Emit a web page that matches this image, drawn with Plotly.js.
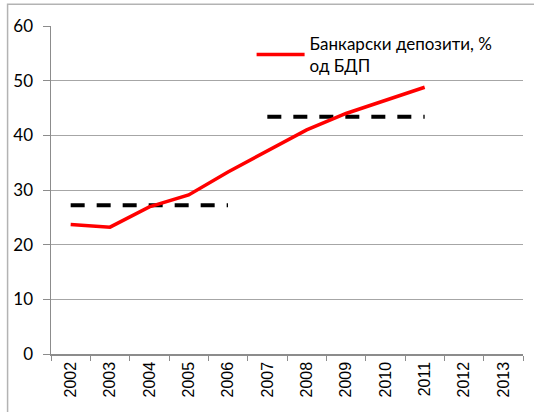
<!DOCTYPE html>
<html>
<head>
<meta charset="utf-8">
<script src="https://cdn.plot.ly/plotly-3.0.1.min.js"></script>
<style>html,body{margin:0;padding:0;background:#fff;}#chart{width:534px;height:412px;}</style>
</head>
<body>
<div id="chart"></div>
<script>
var years = ['2002','2003','2004','2005','2006','2007','2008','2009','2010','2011','2012','2013'];
var depositYears = ['2002','2003','2004','2005','2006','2007','2008','2009','2010','2011'];
var deposits = [23.7, 23.2, 26.9, 29.1, 33.3, 37.1, 41.0, 44.0, 46.4, 48.8];
var avgYears1 = ['2002','2003','2004','2005','2006'];
var avg1 = [27.2, 27.2, 27.2, 27.2, 27.2];
var avgYears2 = ['2007','2008','2009','2010','2011'];
var avg2 = [43.4, 43.4, 43.4, 43.4, 43.4];
var yTicks = [0, 10, 20, 30, 40, 50, 60];
var seriesName = 'Банкарски депозити, %<br>од БДП';

var traces = [
  {x: avgYears1, y: avg1, type: 'scatter', mode: 'lines', showlegend: false,
   line: {color: '#000000', width: 4, dash: '14px,12px'}, hoverinfo: 'skip'},
  {x: avgYears2, y: avg2, type: 'scatter', mode: 'lines', showlegend: false,
   line: {color: '#000000', width: 4, dash: '14px,12px'}, hoverinfo: 'skip'},
  {x: depositYears, y: deposits, type: 'scatter', mode: 'lines', name: seriesName,
   line: {color: '#ff0000', width: 3.5}}
];

var layout = {
  width: 534, height: 412,
  margin: {l: 51, r: 11, t: 26, b: 58, pad: 0, autoexpand: false},
  paper_bgcolor: '#ffffff', plot_bgcolor: '#ffffff',
  font: {family: 'Lato, "Liberation Sans", sans-serif', color: '#000000', size: 16},
  showlegend: true,
  legend: {x: 0.425, xanchor: 'left', y: 1.0, yanchor: 'top', bgcolor: 'rgba(0,0,0,0)',
           font: {size: 17, family: 'Lato, sans-serif'}, itemwidth: 48},
  xaxis: {
    type: 'category', categoryorder: 'array', categoryarray: years,
    tickmode: 'array', tickvals: years, ticktext: years,
    range: [-0.5, 11.5], tickangle: -90, tickson: 'boundaries',
    ticks: 'outside', ticklen: 5, tickcolor: '#8c8c8c', tickwidth: 1,
    showline: true, linecolor: '#8c8c8c', linewidth: 1.5, showgrid: false, zeroline: false,
    automargin: false,
    tickfont: {family: '"Liberation Sans", Arial, sans-serif', size: 16}
  },
  yaxis: {
    range: [0, 60], tickvals: yTicks, ticktext: yTicks.map(String),
    ticks: 'outside', ticklen: 7, tickcolor: '#8c8c8c', tickwidth: 1,
    showline: true, linecolor: '#8c8c8c', linewidth: 1.5,
    showgrid: true, gridcolor: '#a6a6a6', gridwidth: 1, zeroline: false,
    ticklabelstandoff: 6, automargin: false,
    tickfont: {family: 'Lato, sans-serif', size: 17}
  },
  shapes: [
    {type: 'rect', xref: 'paper', yref: 'paper', x0: -0.092, x1: 1.2, y0: -0.3, y1: 1.066,
     line: {color: '#b3b3b3', width: 1.5}, fillcolor: 'rgba(0,0,0,0)', layer: 'below'}
  ]
};

Plotly.newPlot('chart', traces, layout, {displayModeBar: false, staticPlot: true});
</script>
</body>
</html>
